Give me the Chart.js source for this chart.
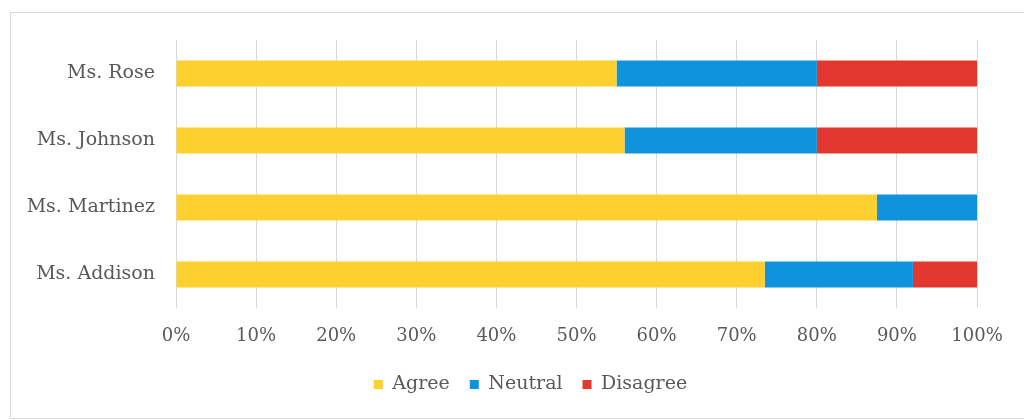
<!DOCTYPE html>
<html lang="en">

<head>
    <meta charset="UTF-8">
    <title>Teacher Survey Results</title>
    <script src="https://cdn.jsdelivr.net/npm/chart.js"></script>
    <style>
        * {
            margin: 0;
            padding: 0;
            box-sizing: border-box;
        }

        html,
        body {
            width: 1024px;
            height: 420px;
            overflow: hidden;
            background-color: #fff;
        }

        body {
            position: relative;
        }

        .frame {
            position: absolute;
            left: 10px;
            top: 12px;
            width: 1014px;
            height: 407px;
            border: 1px solid #d9d9d9;
            border-right: none;
        }

        #surveyChart {
            position: absolute;
            left: 0;
            top: 0;
        }
    </style>
</head>

<body>
    <div class="frame"></div>
    <canvas id="surveyChart" width="1024" height="420"></canvas>

    <script>
        // Survey answers per teacher, in percent
        const teachers = ['Ms. Rose', 'Ms. Johnson', 'Ms. Martinez', 'Ms. Addison'];
        const agree = [55, 56, 87.5, 73.5];
        const neutral = [25, 24, 12.5, 18.5];
        const disagree = [20, 20, 0, 8];

        const seriesNames = ['Agree', 'Neutral', 'Disagree'];
        const seriesColors = ['#fdd02f', '#0f94dc', '#e3382f'];

        const textColor = '#595959';
        const serif = '"DejaVu Serif", "Liberation Serif", serif';

        // the original legend sits a bit right of centre
        const legendShift = {
            id: 'legendShift',
            afterLayout(chart) {
                chart.legend.left += 42;
                chart.legend.right += 42;
            }
        };

        const ctx = document.getElementById('surveyChart').getContext('2d');
        const surveyChart = new Chart(ctx, {
            type: 'bar',
            data: {
                labels: teachers,
                datasets: [agree, neutral, disagree].map((values, i) => ({
                    label: seriesNames[i],
                    data: values,
                    backgroundColor: seriesColors[i],
                    borderWidth: 0,
                    barPercentage: 1,
                    categoryPercentage: 0.39
                }))
            },
            options: {
                indexAxis: 'y',
                responsive: false,
                animation: false,
                layout: {
                    padding: { top: 40, left: 0, right: 47, bottom: 16 }
                },
                scales: {
                    x: {
                        stacked: true,
                        min: 0,
                        max: 100,
                        ticks: {
                            stepSize: 10,
                            padding: 18,
                            color: textColor,
                            font: { family: serif, size: 18 },
                            callback: v => v + '%'
                        },
                        grid: {
                            color: '#d9d9d9',
                            drawTicks: false
                        },
                        border: { display: false },
                        afterFit: scale => { scale.height = 47; }
                    },
                    y: {
                        stacked: true,
                        ticks: {
                            padding: 21,
                            color: textColor,
                            font: { family: serif, size: 19 }
                        },
                        grid: { display: false, drawTicks: false },
                        border: { display: false },
                        afterFit: scale => { scale.width = 176; }
                    }
                },
                plugins: {
                    legend: {
                        position: 'bottom',
                        labels: {
                            boxWidth: 9,
                            boxHeight: 9,
                            padding: 20,
                            color: textColor,
                            font: { family: serif, size: 19 }
                        }
                    },
                    tooltip: { enabled: false }
                }
            },
            plugins: [legendShift]
        });
    </script>
</body>

</html>
